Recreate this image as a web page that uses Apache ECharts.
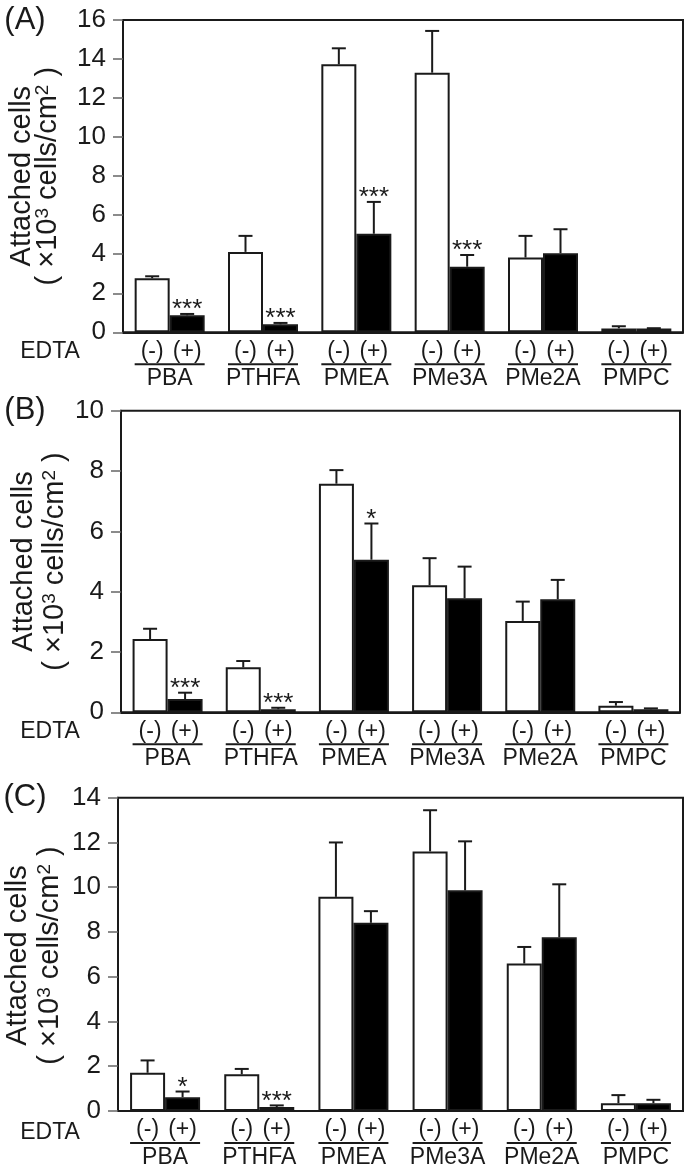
<!DOCTYPE html>
<html>
<head>
<meta charset="utf-8">
<script src="https://cdn.jsdelivr.net/npm/echarts@6/dist/echarts.min.js"></script>
<style>
html,body{margin:0;padding:0;background:#fff;}
#main{width:687px;height:1169px;}
</style>
</head>
<body>
<div id="main"></div>
<script>
// ---- data ----
const categories = ['PBA', 'PTHFA', 'PMEA', 'PMe3A', 'PMe2A', 'PMPC'];

const A_minus     = [2.77, 4.12, 13.73, 13.30, 3.83, 0.20];
const A_minus_err = [0.10, 0.82, 0.82, 2.14, 1.11, 0.11];
const A_plus      = [0.87, 0.41, 5.05, 3.36, 4.05, 0.19];
const A_plus_err  = [0.07, 0.07, 1.63, 0.60, 1.23, 0.02];
const A_sig       = ['***', '***', '***', '***', '', ''];

const B_minus     = [2.43, 1.49, 7.58, 4.21, 3.03, 0.22];
const B_minus_err = [0.34, 0.21, 0.45, 0.90, 0.64, 0.12];
const B_plus      = [0.44, 0.10, 5.06, 3.78, 3.75, 0.10];
const B_plus_err  = [0.21, 0.05, 1.20, 1.05, 0.64, 0.03];
const B_sig       = ['***', '***', '*', '', '', ''];

const C_minus     = [1.71, 1.64, 9.57, 11.60, 6.59, 0.35];
const C_minus_err = [0.55, 0.24, 2.43, 1.84, 0.74, 0.36];
const C_plus      = [0.62, 0.18, 8.41, 9.86, 7.76, 0.35];
const C_plus_err  = [0.25, 0.07, 0.52, 2.19, 2.37, 0.15];
const C_sig       = ['*', '***', '', '', '', ''];

const yMax = [16, 10, 14];
const panelLetters = ['(A)', '(B)', '(C)'];
const edtaLabels = ['(-)', '(+)'];

// ---- layout / style ----
const FONT = "'Liberation Sans', Arial, Helvetica, sans-serif";
const INK = '#1a1a1a';
const BAR_W = 35;
const CAP = 7;
const grids = [
  {left: 123, top: 20,    width: 560, height: 312.3},
  {left: 121, top: 410.7, width: 559, height: 301.6},
  {left: 118, top: 797.7, width: 565, height: 315.6}
];
const titleX = [[22, 48], [24, 55], [18, 50]];

const panels = [
  {minus: A_minus, minusErr: A_minus_err, plus: A_plus, plusErr: A_plus_err, sig: A_sig},
  {minus: B_minus, minusErr: B_minus_err, plus: B_plus, plusErr: B_plus_err, sig: B_sig},
  {minus: C_minus, minusErr: C_minus_err, plus: C_plus, plusErr: C_plus_err, sig: C_sig}
];

function errSeries(gi, vals, errs, side, sigs) {
  return {
    type: 'custom',
    xAxisIndex: gi, yAxisIndex: gi, z: 5, silent: true,
    data: vals.map((v, i) => [i, v, v + errs[i]]),
    renderItem: function (params, api) {
      const i = api.value(0);
      const base = api.coord([i, api.value(1)]);
      const top = api.coord([i, api.value(2)]);
      const x = base[0] + side * BAR_W / 2;
      const children = [
        {type: 'line', shape: {x1: x, y1: base[1], x2: x, y2: top[1]}, style: {stroke: INK, lineWidth: 2}},
        {type: 'line', shape: {x1: x - CAP, y1: top[1], x2: x + CAP, y2: top[1]}, style: {stroke: INK, lineWidth: 2}}
      ];
      const s = sigs ? sigs[params.dataIndex] : '';
      if (s) {
        children.push({type: 'text', x: x, y: top[1] - 4,
          style: {text: s, fill: INK, fontSize: 26, fontFamily: FONT, align: 'center', verticalAlign: 'middle'}});
      }
      return {type: 'group', children: children};
    }
  };
}

const option = {
  backgroundColor: '#fff',
  animation: false,
  grid: grids.map(g => Object.assign({show: true, borderColor: INK, borderWidth: 2, backgroundColor: '#fff'}, g)),
  xAxis: grids.map((g, gi) => ({
    type: 'category', gridIndex: gi, data: categories,
    axisLine: {lineStyle: {color: INK, width: 2}},
    axisTick: {show: false},
    axisLabel: {
      interval: 0, margin: 31, color: INK,
      formatter: v => '{u| }\n{n|' + v + '}',
      rich: {
        u: {width: 70, height: 2, lineHeight: 2, fontSize: 1, backgroundColor: INK},
        n: {fontSize: 23, lineHeight: 27, fontFamily: FONT, color: INK}
      }
    }
  })),
  yAxis: grids.map((g, gi) => ({
    type: 'value', gridIndex: gi, min: 0, max: yMax[gi], interval: 2,
    axisLine: {show: true, lineStyle: {color: INK, width: 2}},
    axisTick: {show: true, length: 10, lineStyle: {color: '#666', width: 1.5}},
    splitLine: {show: false},
    axisLabel: {fontSize: 26, fontFamily: FONT, color: INK, margin: 17}
  })),
  series: [],
  graphic: []
};

panels.forEach((p, gi) => {
  option.series.push({
    type: 'bar', xAxisIndex: gi, yAxisIndex: gi, data: p.minus,
    barWidth: BAR_W, barGap: '0%',
    itemStyle: {color: '#fff', borderColor: INK, borderWidth: 2},
    label: {show: true, position: 'bottom', distance: 7, formatter: () => edtaLabels[0],
      fontSize: 23, lineHeight: 24, fontFamily: FONT, color: INK}
  });
  option.series.push({
    type: 'bar', xAxisIndex: gi, yAxisIndex: gi, data: p.plus,
    barWidth: BAR_W, barGap: '0%',
    itemStyle: {color: '#000', borderColor: INK, borderWidth: 2},
    label: {show: true, position: 'bottom', distance: 7, formatter: () => edtaLabels[1],
      fontSize: 23, lineHeight: 24, fontFamily: FONT, color: INK}
  });
  option.series.push(errSeries(gi, p.minus, p.minusErr, -1, null));
  option.series.push(errSeries(gi, p.plus, p.plusErr, 1, p.sig));

  const g = grids[gi];
  const cy = g.top + g.height / 2;
  option.graphic.push(
    {type: 'text', x: 25, y: g.top, style: {text: panelLetters[gi], fontSize: 31, fontFamily: FONT, fill: INK, align: 'center', verticalAlign: 'middle'}},
    {type: 'text', x: 50, y: g.top + g.height + 19, style: {text: 'EDTA', fontSize: 23, fontFamily: FONT, fill: INK, align: 'center', verticalAlign: 'middle'}},
    {type: 'text', x: titleX[gi][0], y: cy, rotation: Math.PI / 2,
      style: {text: 'Attached cells', fontSize: 29, fontFamily: FONT, fill: INK, align: 'center', verticalAlign: 'middle'}},
    {type: 'text', x: titleX[gi][1], y: cy, rotation: Math.PI / 2,
      style: {text: '( ×10{s|3} cells/cm{s|2} )', fontSize: 29, fontFamily: FONT, fill: INK, align: 'center', verticalAlign: 'middle',
        rich: {s: {fontSize: 19, fontFamily: FONT, lineHeight: 14, verticalAlign: 'top'}}}}
  );
});

const chart = echarts.init(document.getElementById('main'), null, {renderer: 'canvas'});
chart.setOption(option);
</script>
</body>
</html>
